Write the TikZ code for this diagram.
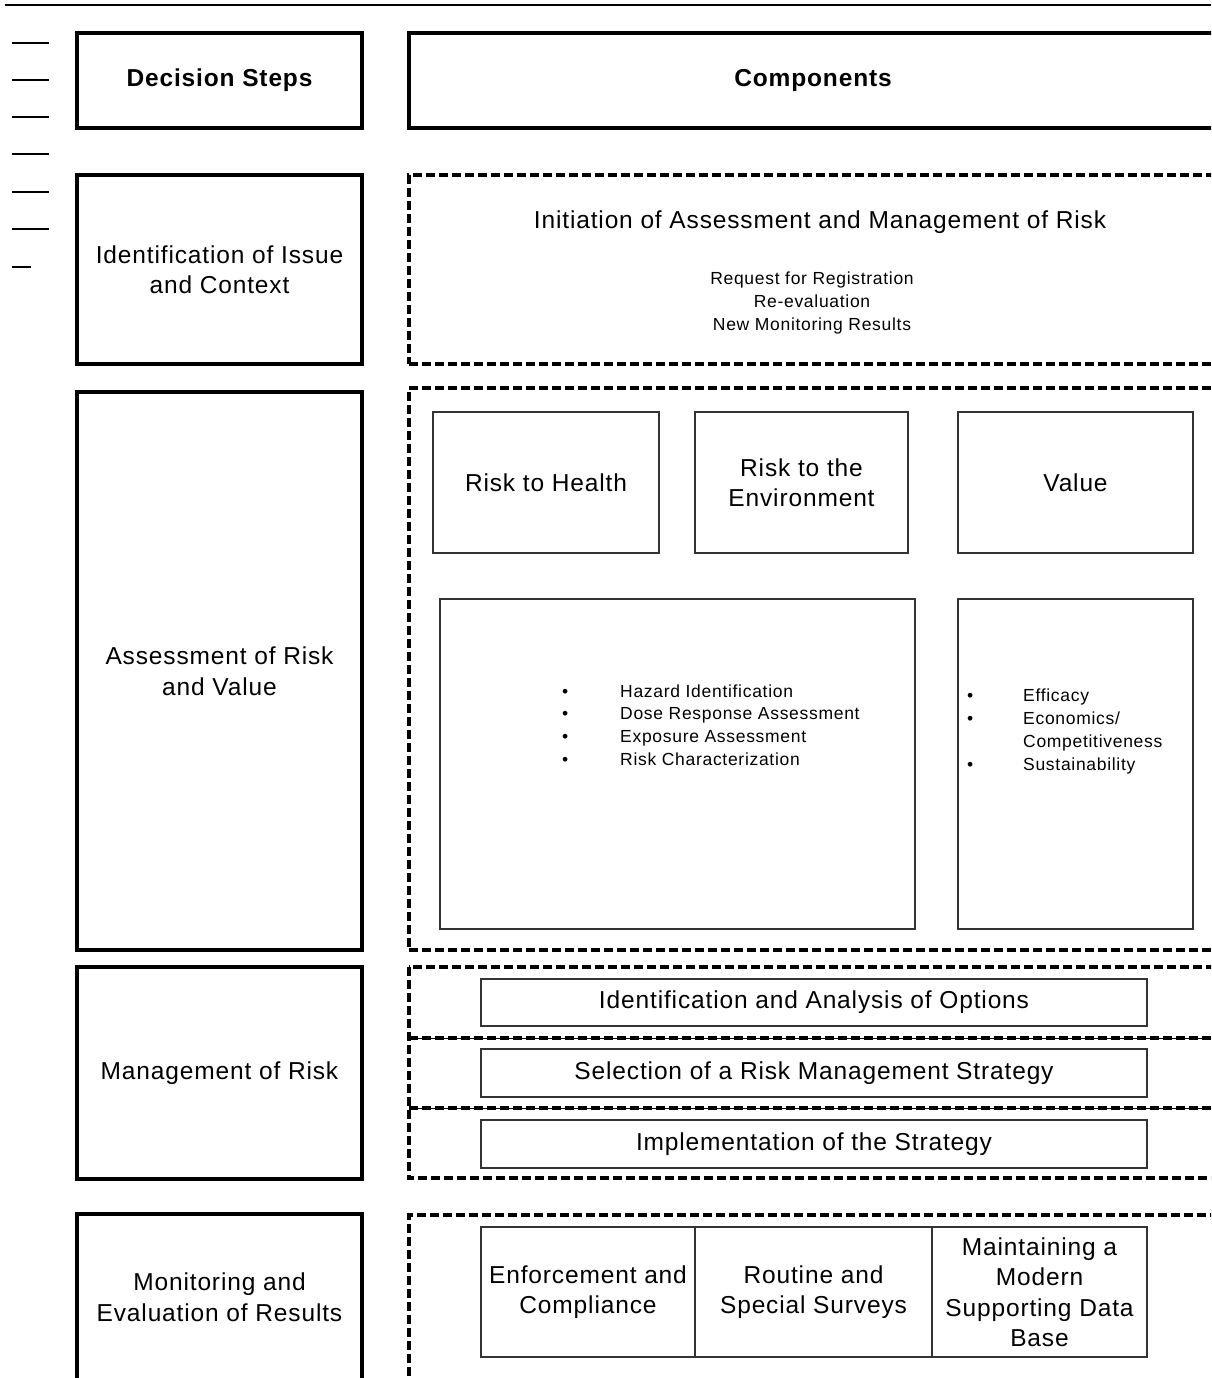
\documentclass[tikz,border=0pt]{standalone}
\usepackage{fontspec}
\setmainfont[LetterSpace=3.5]{Liberation Sans}
\newfontfamily\smallfont[LetterSpace=4]{Liberation Sans}
\newcommand{\bigtext}{\fontsize{24.5}{30.5}\selectfont}
\newcommand{\smalltext}{\smallfont\fontsize{17.5}{23}\selectfont}
\begin{document}
\begin{tikzpicture}[x=1pt, y=-1pt,
    stepbox/.style={draw, line width=3.2pt, align=center, font=\bigtext, inner sep=0},
    dashline/.style={line width=3.6pt, dash pattern=on 9pt off 4pt},
    dashbox/.style={draw, dashline, inner sep=0},
    partbox/.style={draw=black!80, line width=1.1pt, align=center, font=\bigtext, inner sep=0},
    listtext/.style={anchor=base west, inner sep=0, font=\smalltext}]
\useasboundingbox (0,0) rectangle (1211,1378);
\clip (0,0) rectangle (1211,1378);

% rule and ticks at the top left
\draw[line width=2pt] (5,5) -- (1211,5);
\foreach \y in {43,80,117,154,192,229}
    \draw[line width=1.3pt] (12,\y) -- (49,\y);
\draw[line width=1.3pt] (12,267) -- (31,267);

% headings
\node[stepbox, minimum width=285, minimum height=95, font=\bigtext\bfseries] (steps) at (219.5,80.5) {Decision Steps};
\node[stepbox, minimum width=808, minimum height=95, font=\bigtext\bfseries] (comps) at (813,80.5) {Components};

% issue and context
\node[stepbox, minimum width=285, minimum height=189] (issue) at (219.5,269.5) {Identification of Issue\\and Context};
\node[dashbox, minimum width=822, minimum height=189] (initbox) at (820,269.5) {};
\node[font=\bigtext, anchor=base] (init) at (820,228) {Initiation of Assessment and Management of Risk};
\node[font=\smalltext, align=center] (triggers) at (812,303) {Request for Registration\\Re-evaluation\\New Monitoring Results};

% assessment
\node[stepbox, minimum width=285, minimum height=558] (assess) at (219.5,671) {Assessment of Risk\\and Value};
\node[dashbox, minimum width=822, minimum height=562] (assessbox) at (820,669) {};
\node[partbox, minimum width=226, minimum height=141] (health) at (546,482.5) {Risk to Health};
\node[partbox, minimum width=213, minimum height=141] (environ) at (801.5,482.5) {Risk to the\\Environment};
\node[partbox, minimum width=235, minimum height=141] (value) at (1075.5,482.5) {Value};
\node[partbox, minimum width=475, minimum height=330] (riskbox) at (677.5,764) {};
\node[partbox, minimum width=235, minimum height=330] (valuebox) at (1075.5,764) {};
\foreach \entry [count=\i] in {Hazard Identification, Dose Response Assessment, Exposure Assessment, Risk Characterization}
    \node[listtext] (risk\i) at (562,674.3+22.7*\i) {\makebox[58pt][l]{\textbullet}\entry};
\node[listtext] (val1) at (967,701) {\makebox[56pt][l]{\textbullet}Efficacy};
\node[listtext] (val2) at (967,724) {\makebox[56pt][l]{\textbullet}Economics/};
\node[listtext] (val3) at (967,747) {\makebox[56pt][l]{}Competitiveness};
\node[listtext] (val4) at (967,770) {\makebox[56pt][l]{\textbullet}Sustainability};

% management
\node[stepbox, minimum width=285, minimum height=212] (manage) at (219.5,1073) {Management of Risk};
\node[inner sep=0, minimum width=822, minimum height=71] (optbox) at (820,1002.5) {};
\node[inner sep=0, minimum width=822, minimum height=70] (selbox) at (820,1073) {};
\node[inner sep=0, minimum width=822, minimum height=70] (implbox) at (820,1143) {};
\draw[dashline] (optbox.north west) rectangle (implbox.south east);
\draw[line width=0.9pt] (optbox.south west) -- (optbox.south east);
\draw[line width=0.9pt] (selbox.south west) -- (selbox.south east);
\draw[dashline] (optbox.south west) -- (optbox.south east);
\draw[dashline] (selbox.south west) -- (selbox.south east);
\node[partbox, minimum width=666, minimum height=47] (options) at (814,1002.5) {Identification and Analysis of Options};
\node[partbox, minimum width=666, minimum height=48] (strategy) at (814,1073) {Selection of a Risk Management Strategy};
\node[partbox, minimum width=666, minimum height=48] (implement) at (814,1144) {Implementation of the Strategy};

% monitoring
\node[stepbox, minimum width=285, minimum height=166] (monitor) at (219.5,1297) {Monitoring and\\Evaluation of Results};
\node[dashbox, minimum width=822, minimum height=180] (monbox) at (820,1305) {};
\node[partbox, minimum width=214, minimum height=130] (enforce) at (588,1292) {Enforcement and\\Compliance};
\node[partbox, minimum width=237, minimum height=130] (surveys) at (813.5,1292) {Routine and\\Special Surveys};
\node[partbox, minimum width=215, minimum height=130] (database) at (1039.5,1292) {Maintaining a\\Modern\\Supporting Data\\Base};
\end{tikzpicture}
\end{document}
